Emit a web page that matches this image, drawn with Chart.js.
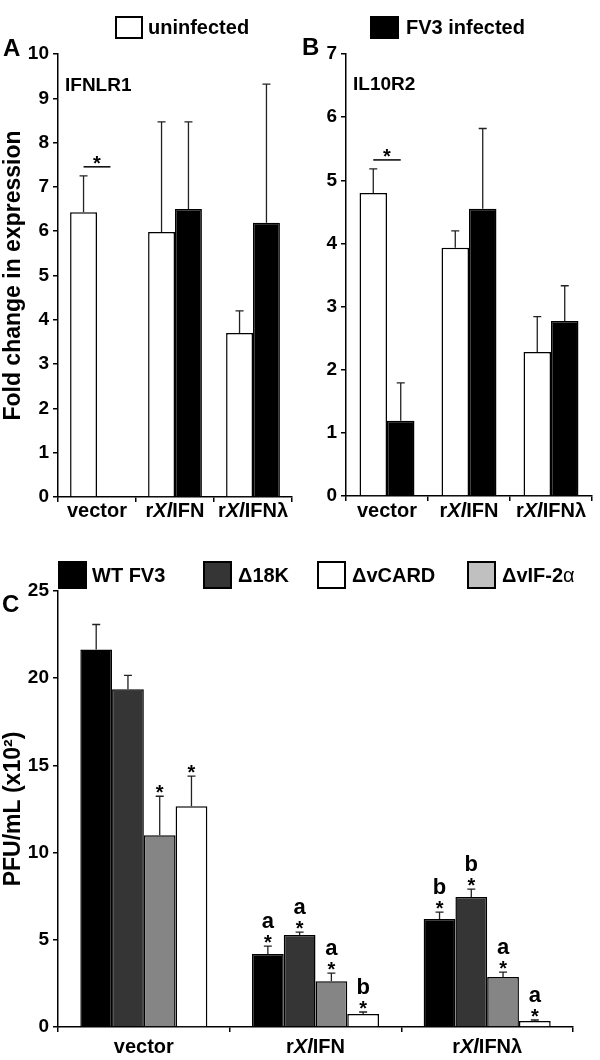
<!DOCTYPE html>
<html>
<head>
<meta charset="utf-8">
<script src="https://cdn.jsdelivr.net/npm/chart.js@4.4.0/dist/chart.umd.min.js"></script>
<style>
    body { margin: 0; background: #fff; width: 600px; height: 1060px; position: relative; overflow: hidden;
           font-family: "Liberation Sans", Arial, sans-serif; font-weight: bold; color: #000; }
    .abs { position: absolute; white-space: nowrap; }
    .wrap { position: absolute; }
    .box { position: absolute; box-sizing: border-box; border: 2px solid #000; }
    .letter { font-size: 24px; line-height: 24px; }
    .leg { font-size: 20px; }
    .title { font-size: 19px; line-height: 19px; }
</style>
</head>
<body>
<div class="wrap" style="left:0;top:0;width:300px;height:530px"><canvas id="chartA" width="300" height="530"></canvas></div>
<div class="wrap" style="left:290px;top:0;width:310px;height:530px"><canvas id="chartB" width="310" height="530"></canvas></div>
<div class="wrap" style="left:0;top:575px;width:600px;height:485px"><canvas id="chartC" width="600" height="485"></canvas></div>

<!-- legend A/B -->
<div class="box" style="left:115px;top:16px;width:28px;height:23px;background:#fff"></div>
<div class="abs leg" style="left:148px;top:16px;line-height:23px">uninfected</div>
<div class="box" style="left:370px;top:16px;width:29px;height:23px;background:#000"></div>
<div class="abs leg" style="left:406px;top:16px;line-height:23px">FV3 infected</div>

<div class="abs letter" style="left:3px;top:36px">A</div>
<div class="abs letter" style="left:302px;top:35px">B</div>
<div class="abs letter" style="left:2px;top:592px">C</div>
<div class="abs title" style="left:65px;top:75px">IFNLR1</div>
<div class="abs title" style="left:353px;top:74px">IL10R2</div>

<!-- legend C -->
<div class="box" style="left:58px;top:561px;width:29px;height:28px;background:#000"></div>
<div class="abs leg" style="left:92px;top:561px;line-height:28px">WT FV3</div>
<div class="box" style="left:203px;top:561px;width:29px;height:28px;background:#353535"></div>
<div class="abs leg" style="left:238px;top:561px;line-height:28px">Δ18K</div>
<div class="box" style="left:317px;top:561px;width:29px;height:28px;background:#fff"></div>
<div class="abs leg" style="left:352px;top:561px;line-height:28px">ΔvCARD</div>
<div class="box" style="left:467px;top:561px;width:29px;height:28px;background:#c0c0c0"></div>
<div class="abs leg" style="left:502px;top:561px;line-height:28px">ΔvIF-2<span style="font-weight:normal">α</span></div>

<script>
// ========== DATA ==========
const groups = ["vector", "rXlIFN", "rXlIFNλ"];

// panel A - IFNLR1
const ifnlrUninfected = [6.43, 5.98, 3.70];
const ifnlrUninfectedErr = [0.82, 2.49, 0.50];
const ifnlrInfected = [null, 6.50, 6.19];
const ifnlrInfectedErr = [null, 1.97, 3.13];

// panel B - IL10R2
const il10Uninfected = [4.80, 3.93, 2.28];
const il10UninfectedErr = [0.38, 0.27, 0.56];
const il10Infected = [1.19, 4.55, 2.77];
const il10InfectedErr = [0.60, 1.27, 0.56];

// panel C - PFU/mL (x10^2)
const wtFv3 = [21.65, 4.18, 6.19];
const wtFv3Err = [1.43, 0.46, 0.40];
const wtFv3Star = [false, true, true];
const wtFv3Letter = ["", "a", "b"];

const d18k = [19.36, 5.27, 7.45];
const d18kErr = [0.80, 0.17, 0.45];
const d18kStar = [false, true, true];
const d18kLetter = ["", "a", "b"];

const dvif = [11.00, 2.63, 2.86];
const dvifErr = [2.23, 0.46, 0.29];
const dvifStar = [true, true, true];
const dvifLetter = ["", "a", "a"];

const dvcard = [12.66, 0.74, 0.34];
const dvcardErr = [1.72, 0.12, 0.06];
const dvcardStar = [true, true, true];
const dvcardLetter = ["", "b", "a"];

// ========== HELPERS ==========
const FONT = '"Liberation Sans", Arial, sans-serif';

// error bars, stars and letters above bars
const errorBarPlugin = {
    id: "errorBars",
    afterDatasetsDraw(chart) {
        const ctx = chart.ctx;
        const yScale = chart.scales.y;
        ctx.save();
        chart.data.datasets.forEach((ds, di) => {
            const meta = chart.getDatasetMeta(di);
            ds.data.forEach((v, i) => {
                if (v === null || !ds.errors || ds.errors[i] === null) return;
                const x = meta.data[i].x;
                const y0 = yScale.getPixelForValue(v);
                const y1 = yScale.getPixelForValue(v + ds.errors[i]);
                ctx.strokeStyle = "#222";
                ctx.lineWidth = 1.3;
                ctx.beginPath();
                ctx.moveTo(x, y0);
                ctx.lineTo(x, y1);
                ctx.moveTo(x - 4, y1);
                ctx.lineTo(x + 4, y1);
                ctx.stroke();
                ctx.fillStyle = "#000";
                ctx.textAlign = "center";
                ctx.textBaseline = "alphabetic";
                if (ds.stars && ds.stars[i]) {
                    ctx.font = "bold 20px " + FONT;
                    ctx.fillText("*", x, y1 + 3);
                }
                if (ds.letters && ds.letters[i]) {
                    ctx.font = "bold 22px " + FONT;
                    ctx.fillText(ds.letters[i], x, y1 - 18);
                }
            });
        });
        // significance bracket between the two bars of one group
        const sig = chart.options.plugins.sigLine;
        if (sig && sig.display) {
            const m0 = chart.getDatasetMeta(0).data[sig.index];
            const ds0 = chart.data.datasets[0];
            let top = yScale.getPixelForValue(ds0.data[sig.index] + ds0.errors[sig.index]);
            const ds1 = chart.data.datasets[1];
            if (ds1.data[sig.index] !== null) {
                top = Math.min(top, yScale.getPixelForValue(ds1.data[sig.index] + ds1.errors[sig.index]));
            }
            const ly = top - 9;
            ctx.strokeStyle = "#000";
            ctx.lineWidth = 1.5;
            ctx.beginPath();
            ctx.moveTo(m0.x, ly);
            ctx.lineTo(m0.x + m0.width, ly);
            ctx.stroke();
            ctx.font = "bold 20px " + FONT;
            ctx.textAlign = "center";
            ctx.fillText("*", m0.x + m0.width / 2, ly + 3);
        }
        ctx.restore();
    }
};

// category labels with the italic "Xl"
const groupLabelPlugin = {
    id: "groupLabels",
    afterDraw(chart) {
        const opt = chart.options.plugins.groupLabels;
        const ctx = chart.ctx;
        const xScale = chart.scales.x;
        const y = chart.chartArea.bottom + opt.offset;
        ctx.save();
        ctx.fillStyle = "#000";
        ctx.textBaseline = "alphabetic";
        ctx.textAlign = "left";
        chart.data.labels.forEach((label, i) => {
            let parts = [[label, "bold"]];
            if (label.startsWith("rXl")) {
                parts = [["r", "bold"], ["Xl", "italic bold"], [label.slice(3), "bold"]];
            }
            let total = 0;
            parts.forEach(p => {
                ctx.font = p[1] + " " + opt.size + "px " + FONT;
                p.push(ctx.measureText(p[0]).width);
                total += p[2];
            });
            let x = xScale.getPixelForValue(i) - total / 2;
            parts.forEach(p => {
                ctx.font = p[1] + " " + opt.size + "px " + FONT;
                ctx.fillText(p[0], x, y);
                x += p[2];
            });
        });
        ctx.restore();
    }
};

function axisStyle() {
    return {
        grid: { drawOnChartArea: false, drawTicks: true, tickLength: 5, color: "#000", lineWidth: 1.5 },
        border: { color: "#000", width: 1.5 }
    };
}

function makeOptions(yMax, yStep, yTitle, yWidth, xHeight, padding, labelOffset, sigDisplay) {
    return {
        responsive: false,
        animation: false,
        layout: { padding: padding },
        plugins: {
            legend: { display: false },
            tooltip: { enabled: false },
            groupLabels: { offset: labelOffset, size: 20 },
            sigLine: { display: sigDisplay, index: 0 }
        },
        scales: {
            x: Object.assign(axisStyle(), {
                ticks: { display: false },
                afterFit: s => { s.height = xHeight; }
            }),
            y: Object.assign(axisStyle(), {
                min: 0,
                max: yMax,
                ticks: { stepSize: yStep, color: "#000", padding: 4, font: { family: FONT, size: 19, weight: "bold" } },
                title: { display: yTitle !== "", text: yTitle, color: "#000", padding: 0,
                         font: { family: FONT, size: 23, weight: "bold" } },
                afterFit: s => { s.width = yWidth; }
            })
        }
    };
}

// ========== CHARTS ==========
new Chart(document.getElementById("chartA"), {
    type: "bar",
    data: {
        labels: groups,
        datasets: [{
            label: "uninfected",
            data: ifnlrUninfected,
            errors: ifnlrUninfectedErr,
            backgroundColor: "#fff",
            borderColor: "#000",
            borderWidth: 1.5,
            categoryPercentage: 0.69,
            barPercentage: 1.0
        }, {
            label: "FV3 infected",
            data: ifnlrInfected,
            errors: ifnlrInfectedErr,
            backgroundColor: "#000",
            borderColor: "#000",
            borderWidth: 1.5,
            categoryPercentage: 0.69,
            barPercentage: 1.0
        }]
    },
    options: makeOptions(10, 1, "Fold change in expression", 58, 33,
        { top: 54, right: 8, left: 0, bottom: 0 }, 20, true),
    plugins: [errorBarPlugin, groupLabelPlugin]
});

new Chart(document.getElementById("chartB"), {
    type: "bar",
    data: {
        labels: groups,
        datasets: [{
            label: "uninfected",
            data: il10Uninfected,
            errors: il10UninfectedErr,
            backgroundColor: "#fff",
            borderColor: "#000",
            borderWidth: 1.5,
            categoryPercentage: 0.67,
            barPercentage: 1.0
        }, {
            label: "FV3 infected",
            data: il10Infected,
            errors: il10InfectedErr,
            backgroundColor: "#000",
            borderColor: "#000",
            borderWidth: 1.5,
            categoryPercentage: 0.67,
            barPercentage: 1.0
        }]
    },
    options: makeOptions(7, 1, "", 56, 34,
        { top: 54, right: 8, left: 0, bottom: 0 }, 21, true),
    plugins: [errorBarPlugin, groupLabelPlugin]
});

const cSets = [
    ["WT FV3", wtFv3, wtFv3Err, wtFv3Star, wtFv3Letter, "#000000"],
    ["Δ18K", d18k, d18kErr, d18kStar, d18kLetter, "#353535"],
    ["ΔvIF-2α", dvif, dvifErr, dvifStar, dvifLetter, "#858585"],
    ["ΔvCARD", dvcard, dvcardErr, dvcardStar, dvcardLetter, "#ffffff"]
];

new Chart(document.getElementById("chartC"), {
    type: "bar",
    data: {
        labels: groups,
        datasets: cSets.map(s => ({
            label: s[0],
            data: s[1],
            errors: s[2],
            stars: s[3],
            letters: s[4],
            backgroundColor: s[5],
            borderColor: "#000",
            borderWidth: 1.5,
            categoryPercentage: 0.74,
            barPercentage: 1.0
        }))
    },
    options: makeOptions(25, 5, "PFU/mL (x10²)", 58, 33,
        { top: 16, right: 27, left: 0, bottom: 0 }, 26, false),
    plugins: [errorBarPlugin, groupLabelPlugin]
});
</script>
</body>
</html>
